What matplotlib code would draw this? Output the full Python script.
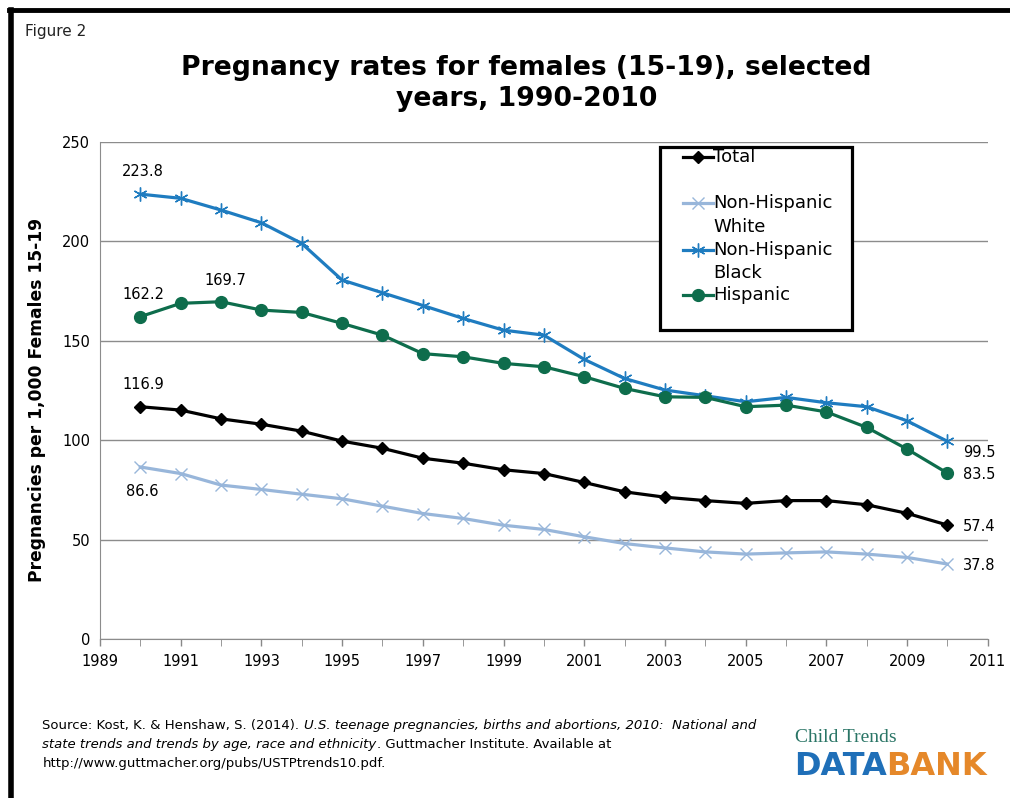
import matplotlib.pyplot as plt
from matplotlib.lines import Line2D
from matplotlib.patches import Rectangle

years = list(range(1990, 2011))
total = [116.9, 115.2, 110.8, 108.1, 104.6, 99.6, 96.0, 91.0, 88.5, 85.2, 83.3,
         78.8, 74.1, 71.4, 69.7, 68.3, 69.7, 69.7, 67.6, 63.3, 57.4]
nh_white = [86.6, 83.3, 77.5, 75.3, 72.9, 70.6, 66.9, 63.2, 60.7, 57.3, 55.2,
            51.5, 48.1, 45.9, 43.9, 42.8, 43.4, 43.9, 42.8, 41.1, 37.8]
nh_black = [223.8, 221.7, 215.8, 209.4, 199.0, 180.6, 174.2, 167.8, 161.3, 155.4, 152.9,
            140.7, 131.1, 125.3, 122.4, 119.4, 121.6, 118.9, 116.9, 109.8, 99.5]
hispanic = [162.2, 168.9, 169.7, 165.5, 164.3, 158.8, 152.9, 143.6, 142.0, 138.7, 137.0,
            132.0, 126.1, 121.9, 121.6, 116.9, 117.7, 114.3, 106.5, 95.6, 83.5]
labels = ['Total', 'Non-Hispanic\nWhite', 'Non-Hispanic\nBlack', 'Hispanic']

c_total = 'black'
c_white = '#98B6DA'
c_black = '#1F7CC0'
c_hisp = '#0E6D4C'

styles = [
    dict(color=c_total, lw=2.3, marker='D', ms=6),
    dict(color=c_white, lw=2.3, marker='x', ms=9, mew=1.0),
    dict(color=c_black, lw=2.3, marker=(6, 2, 0), ms=10, mew=1.0),
    dict(color=c_hisp, lw=2.3, marker='o', ms=8.5),
]

fig = plt.figure(figsize=(10.1, 7.98), dpi=100)
ax = fig.add_axes([0.099, 0.199, 0.879, 0.623])

ax.plot(years, total, zorder=5, **styles[0])
ax.plot(years, nh_white, zorder=3, **styles[1])
ax.plot(years, nh_black, zorder=4, **styles[2])
ax.plot(years, hispanic, zorder=4, **styles[3])

ax.set_xlim(1989, 2011)
ax.set_ylim(0, 250)
ax.set_yticks([0, 50, 100, 150, 200, 250])
ax.set_xticks(range(1989, 2012, 2))
ax.set_xticks(range(1990, 2011, 2), minor=True)
ax.tick_params(axis='both', labelsize=10.5, length=5, width=1, direction='out')
ax.tick_params(axis='x', which='both', color='#888888')
ax.tick_params(axis='x', which='minor', length=5)
ax.tick_params(axis='y', length=0, pad=7)
ax.tick_params(axis='x', pad=6)
ax.grid(axis='y', color='#8c8c8c', lw=1)
ax.set_axisbelow(True)
for s in ['top', 'right']:
    ax.spines[s].set_visible(False)
ax.spines['left'].set_color('#8c8c8c')
ax.spines['bottom'].set_color('#8c8c8c')

ax.set_ylabel('Pregnancies per 1,000 Females 15-19', fontsize=12.3, fontweight='bold')
ax.yaxis.set_label_coords(-0.061, 0.481)

# value labels
lab_kw = dict(textcoords='offset points', fontsize=10.5)
ax.annotate('223.8', (1990, nh_black[0]), xytext=(-13, 13), **lab_kw)
ax.annotate('162.2', (1990, hispanic[0]), xytext=(-13, 13), **lab_kw)
ax.annotate('169.7', (1992, hispanic[2]), xytext=(-12, 12), **lab_kw)
ax.annotate('116.9', (1990, total[0]), xytext=(-13, 13), **lab_kw)
ax.annotate('86.6', (1990, nh_white[0]), xytext=(-10, -21), **lab_kw)
ax.annotate('99.5', (2010, nh_black[-1]), xytext=(11, -11), **lab_kw)
ax.annotate('83.5', (2010, hispanic[-1]), xytext=(11, -4), **lab_kw)
ax.annotate('57.4', (2010, total[-1]), xytext=(11, -4), **lab_kw)
ax.annotate('37.8', (2010, nh_white[-1]), xytext=(11, -4), **lab_kw)

# legend box drawn by hand to get the Excel-like layout
ax.add_patch(Rectangle((0.631, 0.622), 0.216, 0.368, transform=ax.transAxes,
                       facecolor='white', edgecolor='black', lw=2.3, zorder=6, clip_on=False))
rows = [0.970, 0.877, 0.783, 0.692]
line_gap = 0.047
for lab, st, yr in zip(labels, styles, rows):
    ax.add_line(Line2D([0.657, 0.6735, 0.690], [yr, yr, yr], transform=ax.transAxes,
                       markevery=[1], zorder=7, **st))
    for i, part in enumerate(lab.split('\n')):
        ax.text(0.691, yr - i * line_gap, part, transform=ax.transAxes, fontsize=13,
                va='center', ha='left', zorder=8)

fig.text(0.025, 0.96, 'Figure 2', fontsize=11, color='#222222', va='center')
fig.text(0.521, 0.895, 'Pregnancy rates for females (15-19), selected\nyears, 1990-2010',
         fontsize=19.2, fontweight='bold', ha='center', va='center', linespacing=1.25)

src_kw = dict(fontsize=9.5, va='bottom')
t1 = fig.text(0.042, 0.083, 'Source: Kost, K. & Henshaw, S. (2014). ', **src_kw)
ax.annotate('U.S. teenage pregnancies, births and abortions, 2010:  National and',
            xy=(1, 0), xycoords=t1, style='italic', **src_kw)
t3 = fig.text(0.042, 0.059, 'state trends and trends by age, race and ethnicity', style='italic', **src_kw)
ax.annotate('. Guttmacher Institute. Available at', xy=(1, 0), xycoords=t3, **src_kw)
fig.text(0.042, 0.035, 'http://www.guttmacher.org/pubs/USTPtrends10.pdf.', **src_kw)

fig.text(0.787, 0.076, 'Child Trends', fontsize=14, family='Liberation Serif', color='#2A7566', va='center')
fig.text(0.786, 0.040, 'DATA', fontsize=23, fontweight='bold', color='#1F6FB8', va='center')
fig.text(0.877, 0.040, 'BANK', fontsize=23, fontweight='bold', color='#E5882A', va='center')

# page frame (top and left edges)
fig.add_artist(Line2D([0.009, 1.0], [0.9875, 0.9875], color='black', lw=3.5, transform=fig.transFigure))
fig.add_artist(Line2D([0.0105, 0.0105], [0.0, 0.9875], color='black', lw=4, transform=fig.transFigure))

fig.savefig('out.png', dpi=100)
